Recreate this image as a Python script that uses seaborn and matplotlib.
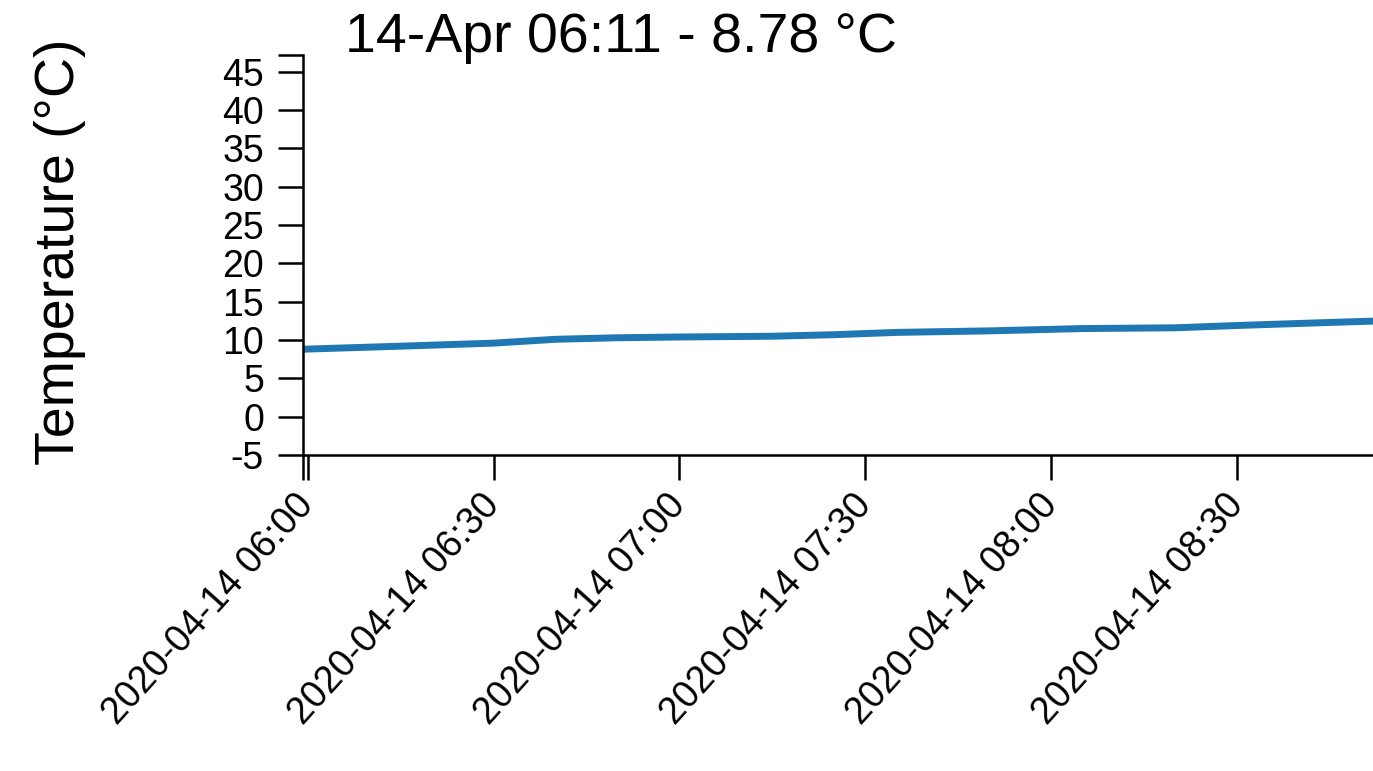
import pandas as pd
import numpy as np
import seaborn as sns
import matplotlib.pyplot as plt
import matplotlib.dates as mdates

# readings picked off the reference line
times = ["05:59", "06:15", "06:30", "06:40", "06:50", "07:00", "07:15", "07:25",
         "07:35", "07:50", "08:05", "08:20", "08:30", "08:45", "08:53"]
temps = [8.8, 9.2, 9.6, 10.1, 10.3, 10.4, 10.5, 10.7,
         11.0, 11.2, 11.5, 11.6, 11.9, 12.3, 12.5]
y_ticks = [-5, 0, 5, 10, 15, 20, 25, 30, 35, 40, 45]
title_text = "14-Apr 06:11 - 8.78 °C"
y_label = "Temperature (°C)"

df = pd.DataFrame({
    "time": pd.to_datetime(["2020-04-14 " + t for t in times]),
    "temp": temps,
})

sns.set_style("white")
plt.rcParams["font.family"] = ["Liberation Sans", "DejaVu Sans"]
plt.rcParams["axes.unicode_minus"] = False
plt.rcParams["text.color"] = "black"

W, H = 1373, 771
fig = plt.figure(figsize=(W / 100, H / 100), dpi=100)
ax = fig.add_axes([303 / W, 1 - 455 / H, (W - 303) / W, 400 / H])

sns.lineplot(data=df, x="time", y="temp", ax=ax, color="#1f77b4", linewidth=5)

x_min = pd.Timestamp("2020-04-14 05:59:15")
x_max = pd.Timestamp("2020-04-14 08:51:54")
ax.set_xlim(x_min, x_max)
ax.set_ylim(-5, 47.2)

ax.set_yticks(y_ticks)
ax.set_yticks([47.2], minor=True)
ax.xaxis.set_major_locator(mdates.MinuteLocator(byminute=[0, 30]))
ax.xaxis.set_major_formatter(mdates.DateFormatter("%Y-%m-%d %H:%M"))
ax.set_xticks([mdates.date2num(x_min)], minor=True)

for s in ["top", "right"]:
    ax.spines[s].set_visible(False)
for s in ["left", "bottom"]:
    ax.spines[s].set_linewidth(1.8)
    ax.spines[s].set_color("black")

ax.tick_params(which="both", direction="out", length=18, width=1.8, color="black",
               left=True, bottom=True)
ax.tick_params(axis="y", labelsize=27, pad=10, labelcolor="black")
ax.tick_params(axis="x", labelsize=27, pad=14, labelcolor="black")
for lbl in ax.get_xticklabels():
    lbl.set_rotation(48)
    lbl.set_rotation_mode("anchor")
    lbl.set_ha("right")
    lbl.set_va("center")

ax.set_xlabel("")
ax.set_ylabel("")
fig.text(34 / W, 1 - 252 / H, y_label, rotation=90, fontsize=40,
         ha="left", va="center")
fig.text(345 / W, 1 - 52 / H, title_text, fontsize=40, ha="left", va="baseline")

fig.savefig("out.png", dpi=100)
